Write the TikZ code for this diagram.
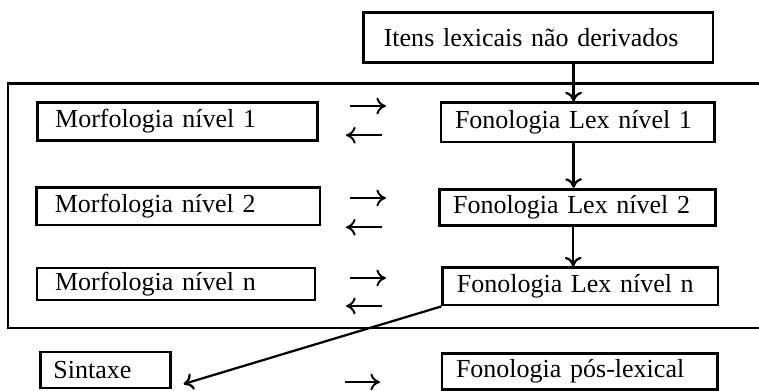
\documentclass[tikz,border=0pt]{standalone}
\usepackage{fontspec}
\setmainfont{Liberation Serif}
\usetikzlibrary{arrows.meta}

\begin{document}
\begin{tikzpicture}[x=1cm,y=1cm,
  font=\fontsize{18.5}{22}\selectfont,
  box/.style={draw, line width=2pt, align=left, inner xsep=0.35cm, inner ysep=0pt},
  >={To[length=0.24cm,width=0.42cm]}]
\useasboundingbox (0,0) rectangle (18.975,-9.75);
\node[box, inner xsep=0.5cm, text width=7.73cm, minimum height=1.25cm] (itens) at (13.46,-0.93) {Itens lexicais não derivados};
\draw[line width=2pt] (19,-2.08) -- (0.2,-2.08) -- (0.2,-8.2) -- (19,-8.2);
\node[box, inner xsep=0.45cm, text width=6.1cm, minimum height=0.95cm] (m1) at (4.43,-3.03) {Morfologia nível 1};
\node[box, text width=6.13cm, minimum height=0.98cm] (f1) at (14.44,-3.06) {Fonologia Lex nível 1};
\node[box, inner xsep=0.45cm, text width=6.18cm, minimum height=0.93cm] (m2) at (4.46,-5.16) {Morfologia nível 2};
\node[box, text width=6.2cm, minimum height=0.9cm] (f2) at (14.43,-5.18) {Fonologia Lex nível 2};
\node[box, inner xsep=0.45cm, text width=6.05cm, minimum height=0.8cm] (mn) at (4.4,-7.1) {Morfologia nível n};
\node[box, text width=6.18cm, minimum height=0.93cm] (fn) at (14.51,-7.16) {Fonologia Lex nível n};
\node[box, inner xsep=0.33cm, text width=2.59cm, minimum height=0.9cm] (sint) at (2.63,-9.25) {Sintaxe};
\node[box, text width=6.18cm, minimum height=0.9cm] (pos) at (14.49,-9.28) {Fonologia pós-lexical};
\draw[->, line width=1.6pt] ([xshift=-0.1cm]f1.north |- itens.south) -- ([xshift=-0.1cm]f1.north);
\draw[->, line width=1.6pt] ([xshift=-0.1cm]f1.south) -- ([xshift=-0.1cm]f1.south |- f2.north);
\draw[->, line width=1.6pt] ([xshift=-0.1cm]f2.south) -- ([xshift=-0.1cm]f2.south |- fn.north);
\foreach \ya/\yb in {-2.65/-3.38, -4.95/-5.68, -6.95/-7.65} {
  \draw[->, line width=1.4pt] (8.75,\ya) -- (9.65,\ya);
  \draw[->, line width=1.4pt] (9.55,\yb) -- (8.65,\yb);
}
\draw[->, line width=1.6pt] (fn.south west) -- ([xshift=0.3cm,yshift=-0.35cm]sint.east);
\draw[->, line width=1.4pt] (8.63,-9.55) -- (9.5,-9.55);
\end{tikzpicture}
\end{document}
